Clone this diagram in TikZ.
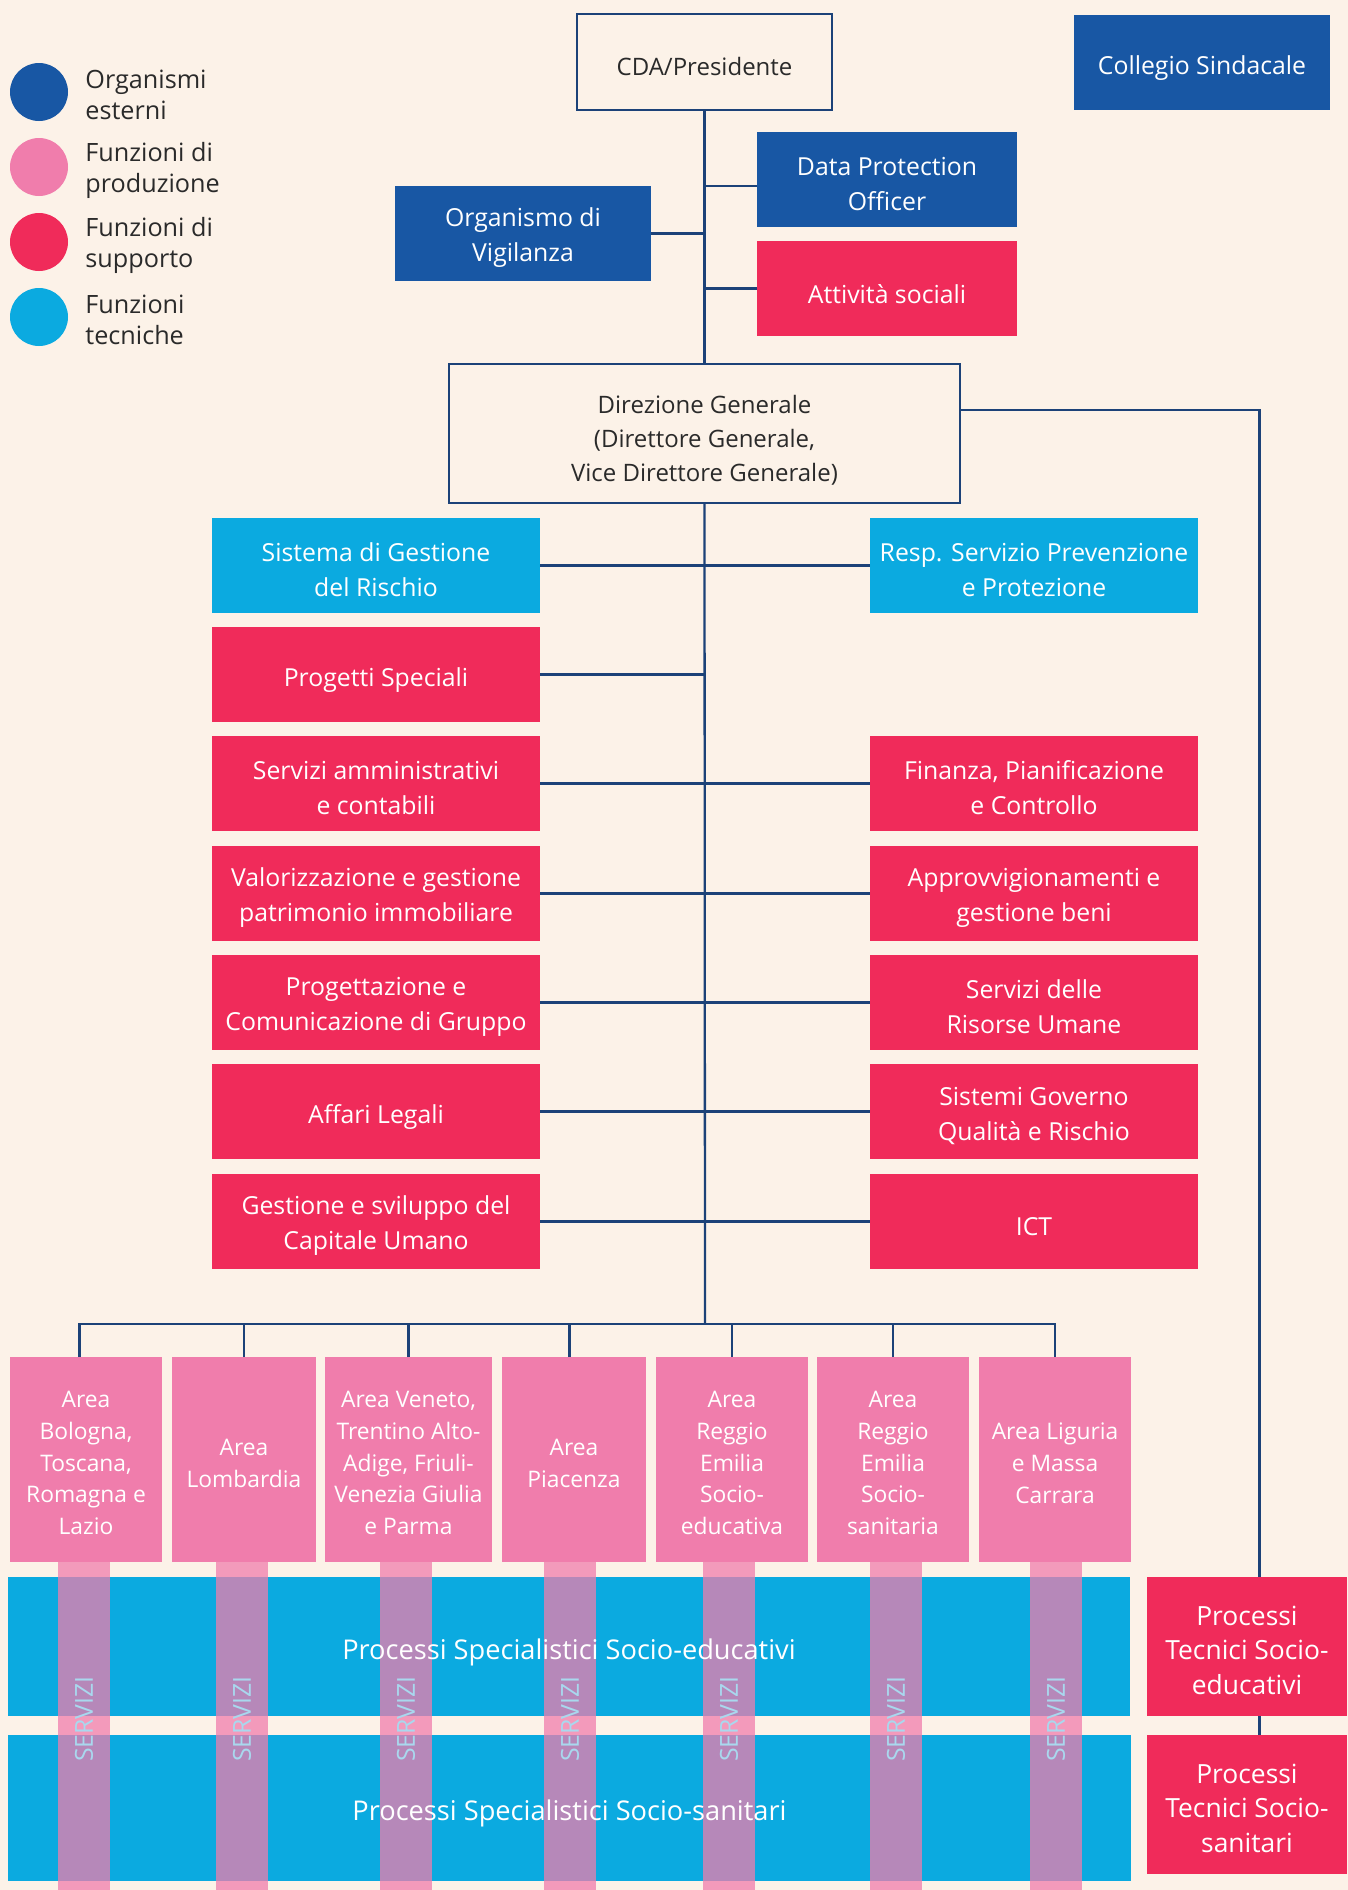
\documentclass[tikz,border=0pt]{standalone}
\usepackage{fontspec}
\setmainfont{Open Sans}
\definecolor{cbg}{HTML}{FCF2E8}
\definecolor{cnavy}{HTML}{1C4278}
\definecolor{cblue}{HTML}{1857A4}
\definecolor{cred}{HTML}{F02B5A}
\definecolor{cpink}{HTML}{F07DAC}
\definecolor{ccyan}{HTML}{0BAAE0}
\definecolor{ctext}{HTML}{2A2A2A}
\definecolor{csrv}{HTML}{A9D8EE}
\newcommand{\bxfont}{\fontsize{12.4}{17.5}\selectfont}
\newcommand{\obfont}{\fontsize{12}{17.2}\selectfont}
\newcommand{\lgfont}{\fontsize{12.6}{15.5}\selectfont}
\newcommand{\arfont}{\fontsize{11.4}{15.85}\selectfont}
\newcommand{\bdfont}{\fontsize{13.6}{15}\selectfont}
\newcommand{\ptfont}{\fontsize{13.2}{17.2}\selectfont}
\newcommand{\svfont}{\fontsize{12.4}{14}\selectfont}
% shape only
\newcommand{\shp}[6]{\node[#1, minimum width={(#5-#3)*0.5pt}, minimum height={(#6-#4)*0.5pt}] (#2) at ({(#3+#5)/2},{(#4+#6)/2}) {};}
% shape plus text (text shifted by optional arg)
\newcommand{\rbox}[8][-2.2pt]{\node[#2, minimum width={(#6-#4)*0.5pt}, minimum height={(#7-#5)*0.5pt}] (#3) at ({(#4+#6)/2},{(#5+#7)/2}) {};
  \node[#2, fill=none, draw=none, minimum width=0pt, minimum height=0pt, yshift=#1] (#3t) at (#3.center) {#8};}
\tikzset{
  box/.style={inner sep=0pt, outer sep=0pt, align=center, font=\bxfont, text=white, rectangle},
  bluebox/.style={box, fill=cblue},
  redbox/.style={box, fill=cred},
  cyanbox/.style={box, fill=ccyan},
  outbox/.style={box, draw=cnavy, line width=1.15pt, fill=cbg, text=ctext, font=\obfont},
  areabox/.style={box, fill=cpink, font=\arfont},
  band/.style={box, fill=ccyan},
  bandtext/.style={inner sep=0pt, text=white, font=\bdfont},
  procbox/.style={box, fill=cred, font=\ptfont},
  strip/.style={inner sep=0pt, outer sep=0pt, rectangle, fill=cpink, fill opacity=0.75},
  servizi/.style={inner sep=0pt, text=csrv, font=\svfont, rotate=90},
  conn/.style={draw=cnavy, line width=1.15pt},
  legdot/.style={circle, inner sep=0pt, minimum size=29pt},
  legtext/.style={anchor=west, align=left, font=\lgfont, text=ctext, inner sep=0pt},
}
\begin{document}
\begin{tikzpicture}[x=0.5pt,y=-0.5pt]
\useasboundingbox (0,0) rectangle (1348,1890);
\fill[cbg] (0,0) rectangle (1348,1890);

% legend
\node[legdot, fill=cblue] (lg1) at (39,92) {};
\node[legdot, fill=cpink] (lg2) at (39,167) {};
\node[legdot, fill=cred] (lg3) at (39,242) {};
\node[legdot, fill=ccyan] (lg4) at (39,317) {};
\node[legtext] (lt1) at (85,95) {Organismi\\esterni};
\node[legtext] (lt2) at (85,170) {Funzioni di\\produzione};
\node[legtext] (lt3) at (85,245) {Funzioni di\\supporto};
\node[legtext] (lt4) at (85,320) {Funzioni\\tecniche};

% top level
\rbox[-2.4pt]{outbox}{cda}{577}{14}{832}{110}{CDA/Presidente}
\rbox[-2.8pt]{bluebox}{coll}{1074}{15}{1330}{110}{Collegio Sindacale}
\rbox{bluebox}{dpo}{757}{132}{1017}{227}{Data Protection\\Officer}
\rbox[-2.6pt]{redbox}{att}{757}{241}{1017}{336}{Attività sociali}
\rbox{bluebox}{odv}{395}{186}{651}{281}{Organismo di\\Vigilanza}
\rbox[-3.4pt]{outbox}{dg}{449}{364}{960}{503}{Direzione Generale\\(Direttore Generale,\\Vice Direttore Generale)}

% columns
\rbox{cyanbox}{l1}{212}{518}{540}{613}{Sistema di Gestione\\del Rischio}
\rbox{cyanbox}{r1}{870}{518}{1198}{613}{Resp. Servizio Prevenzione\\e Protezione}
\rbox[-2.8pt]{redbox}{l2}{212}{627}{540}{722}{Progetti Speciali}
\rbox{redbox}{l3}{212}{736}{540}{831}{Servizi amministrativi\\e contabili}
\rbox{redbox}{r3}{870}{736}{1198}{831}{Finanza, Pianificazione\\e Controllo}
\rbox{redbox}{l4}{212}{846}{540}{941}{Valorizzazione e gestione\\patrimonio immobiliare}
\rbox{redbox}{r4}{870}{846}{1198}{941}{Approvvigionamenti e\\gestione beni}
\rbox{redbox}{l5}{212}{955}{540}{1050}{Progettazione e\\Comunicazione di Gruppo}
\rbox{redbox}{r5}{870}{955}{1198}{1050}{Servizi delle\\Risorse Umane}
\rbox[-2.8pt]{redbox}{l6}{212}{1064}{540}{1159}{Affari Legali}
\rbox{redbox}{r6}{870}{1064}{1198}{1159}{Sistemi Governo\\Qualità e Rischio}
\rbox{redbox}{l7}{212}{1174}{540}{1269}{Gestione e sviluppo del\\Capitale Umano}
\rbox[-2.4pt]{redbox}{r7}{870}{1174}{1198}{1269}{ICT}

% areas
\rbox[-1.8pt]{areabox}{a1}{10}{1357}{162}{1562}{Area\\Bologna,\\Toscana,\\Romagna e\\Lazio}
\rbox[-1.8pt]{areabox}{a2}{172}{1357}{316}{1562}{Area\\Lombardia}
\rbox[-1.8pt]{areabox}{a3}{325}{1357}{492}{1562}{Area Veneto,\\Trentino Alto-\\Adige, Friuli-\\Venezia Giulia\\e Parma}
\rbox[-1.8pt]{areabox}{a4}{502}{1357}{646}{1562}{Area\\Piacenza}
\rbox[-1.8pt]{areabox}{a5}{656}{1357}{808}{1562}{Area\\Reggio\\Emilia\\Socio-\\educativa}
\rbox[-1.8pt]{areabox}{a6}{817}{1357}{969}{1562}{Area\\Reggio\\Emilia\\Socio-\\sanitaria}
\rbox[-1.8pt]{areabox}{a7}{979}{1357}{1131}{1562}{Area Liguria\\e Massa\\Carrara}

% process boxes
\rbox[-1.8pt]{procbox}{p1}{1147}{1577}{1347}{1716}{Processi\\Tecnici Socio-\\educativi}
\rbox[-1.8pt]{procbox}{p2}{1147}{1735}{1347}{1874}{Processi\\Tecnici Socio-\\sanitari}

% bands
\shp{band}{b1}{8}{1577}{1130}{1716}
\shp{band}{b2}{8}{1735}{1131}{1881}

% connectors
\coordinate (bar) at (705,1324);
\draw[conn] (cda.south) -- (dg.north);
\draw[conn] (odv.east) -- (odv.east -| cda.south);
\draw[conn] ([yshift=-3.25pt]dpo.west) -- ([yshift=-3.25pt]dpo.west -| cda.south);
\draw[conn] (att.west) -- (att.west -| cda.south);
\draw[conn] (dg.south) -- (bar);
\draw[conn] (l1.east) -- (r1.west);
\draw[conn] (l2.east) -- (l2.east -| dg.south);
\draw[conn] (l3.east) -- (r3.west);
\draw[conn] (l4.east) -- (r4.west);
\draw[conn] (l5.east) -- (r5.west);
\draw[conn] (l6.east) -- (r6.west);
\draw[conn] (l7.east) -- (r7.west);
\draw[conn] ([xshift=-3.3pt]a1.north) |- (bar) -| (a7.north);
\draw[conn] (a2.north) -- (a2.north |- bar);
\draw[conn] (a3.north) -- (a3.north |- bar);
\draw[conn] ([xshift=-2.3pt]a4.north) -- ([xshift=-2.3pt]a4.north |- bar);
\draw[conn] (a5.north) -- (a5.north |- bar);
\draw[conn] (a6.north) -- (a6.north |- bar);
\draw[conn] ([yshift=11.75pt]dg.east) -| ([xshift=6.25pt]p1.north);
\draw[conn] ([xshift=6.25pt]p1.south) -- ([xshift=6.25pt]p2.north);

% strips
\shp{strip}{s1}{58}{1562}{110}{1890}
\shp{strip}{s2}{216}{1562}{268}{1890}
\shp{strip}{s3}{380}{1562}{432}{1890}
\shp{strip}{s4}{544}{1562}{596}{1890}
\shp{strip}{s5}{703}{1562}{755}{1890}
\shp{strip}{s6}{870}{1562}{922}{1890}
\shp{strip}{s7}{1030}{1562}{1082}{1890}

% band texts
\node[bandtext, yshift=-2.8pt] (bt1) at (b1) {Processi Specialistici Socio-educativi};
\node[bandtext, yshift=-2.8pt] (bt2) at (b2) {Processi Specialistici Socio-sanitari};

% servizi labels
\foreach \i/\x in {1/84,2/242,3/406,4/570,5/729,6/896,7/1056}{
  \node[servizi] (sv\i) at (\x,1719) {SERVIZI};
}
\end{tikzpicture}
\end{document}
